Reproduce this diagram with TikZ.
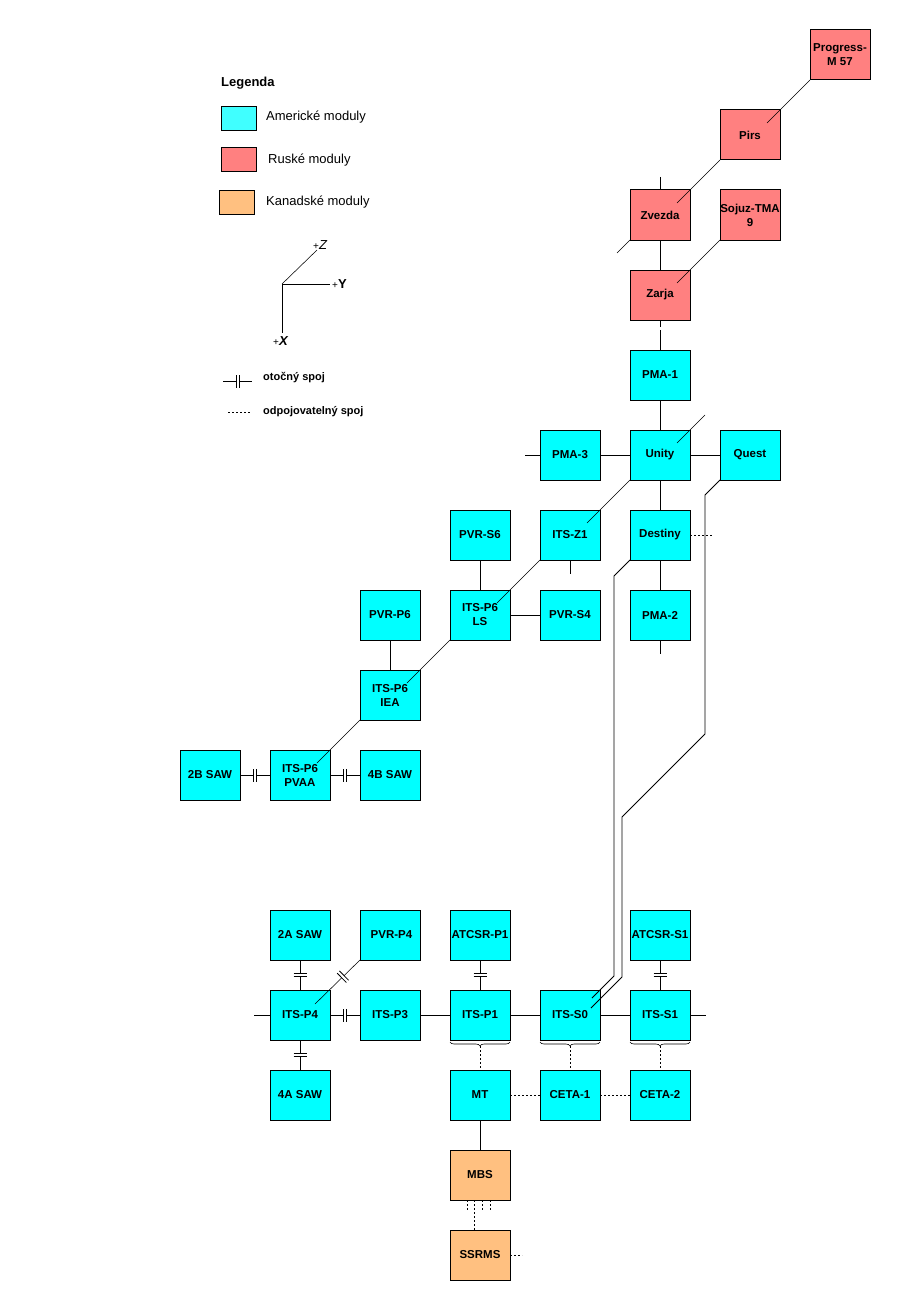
\documentclass[tikz,border=0pt]{standalone}
\usepackage{fontspec}
\setmainfont{Liberation Sans}
\usetikzlibrary{calc,decorations.pathreplacing,decorations.markings}
\definecolor{usmod}{HTML}{00FFFF}
\definecolor{uslegend}{HTML}{40FFFF}
\definecolor{rumod}{HTML}{FF8080}
\definecolor{camod}{HTML}{FFC080}
\begin{document}
\begin{tikzpicture}[x=1pt,y=-1pt,
  mod/.style={draw, line width=1pt, minimum width=60pt, minimum height=50pt, inner sep=0pt, outer sep=0pt, align=center, font=\fontsize{11.5}{14}\selectfont\bfseries, anchor=north west},
  us/.style={mod, fill=usmod},
  ru/.style={mod, fill=rumod},
  ca/.style={mod, fill=camod},
  legbox/.style={draw, line width=1pt, minimum width=35pt, minimum height=24pt, inner sep=0pt, anchor=north west},
  legtext/.style={anchor=west, inner sep=0pt, font=\fontsize{13}{15}\selectfont},
  legbold/.style={anchor=west, inner sep=0pt, font=\fontsize{11}{13}\selectfont\bfseries},
  conn/.style={line width=0.9pt},
  diag/.style={line width=0.55pt},
  long/.style={line width=0.75pt},
  dot/.style={line width=0.9pt, dash pattern=on 2pt off 2pt},
  rjoint/.style={postaction={decorate}, decoration={markings, mark=at position #1 with {\fill[white] (-1.4pt,-5pt) rectangle (1.4pt,5pt); \draw[line width=0.8pt] (-1.6pt,-6.5pt)--(-1.6pt,6.5pt) (1.6pt,-6.5pt)--(1.6pt,6.5pt);}}},
  rjoint/.default=0.5,
  brc/.style={line width=0.6pt, decorate, decoration={brace, amplitude=4pt}}
]
\useasboundingbox (0,0) rectangle (900,1300);
\fill[white] (0,0) rectangle (900,1300);

% ---------- legend ----------
\node[anchor=west, inner sep=0pt, font=\fontsize{13}{15}\selectfont\bfseries] (legtitle) at (221,83) {Legenda};
\node[legbox, fill=uslegend] (legus) at (221,106) {};
\node[legtext] (legustext) at (266,117) {Americké moduly};
\node[legbox, fill=rumod] (legru) at (221,147) {};
\node[legtext] (legrutext) at (268,160) {Ruské moduly};
\node[legbox, fill=camod] (legca) at (219,190) {};
\node[legtext] (legcatext) at (266,202) {Kanadské moduly};

\coordinate (axo) at (282,284);
\coordinate (axz) at (317,250);
\coordinate (axy) at (330,284);
\coordinate (axx) at (282,333);
\draw[diag] (axo) -- (axz);
\draw[conn] (axo) -- (axy);
\draw[conn] (axo) -- (axx);
\node[anchor=west, inner sep=0pt] (labz) at (313,245) {{\fontsize{10}{10}\selectfont +}{\fontsize{13}{13}\selectfont\itshape Z}};
\node[anchor=west, inner sep=0pt] (laby) at (332,284) {{\fontsize{10}{10}\selectfont +}{\fontsize{13}{13}\selectfont\bfseries Y}};
\node[anchor=west, inner sep=0pt] (labx) at (273,341) {{\fontsize{10}{10}\selectfont +}{\fontsize{13}{13}\selectfont\bfseries\itshape X}};

\coordinate (rja) at (223,381);
\coordinate (rjb) at (252,381);
\draw[conn, rjoint] (rja) -- (rjb);
\node[legbold] (rjtext) at (263,378) {otočný spoj};
\coordinate (dja) at (228,412);
\coordinate (djb) at (251,412);
\draw[dot] (dja) -- (djb);
\node[legbold] (djtext) at (263,412) {odpojovatelný spoj};

% ---------- modules ----------
\node[ru] (progress) at (810,30) {Progress-\\M 57};
\node[ru] (pirs) at (720,110) {Pirs};
\node[ru] (zvezda) at (630,190) {Zvezda};
\node[ru] (sojuz) at (720,190) {Sojuz-TMA\\9};
\node[ru] (zarja) at (630,270) {Zarja};
\node[us] (pma1) at (630,350) {PMA-1};
\node[us] (pma3) at (540,430) {PMA-3};
\node[us] (unity) at (630,430) {Unity};
\node[us] (quest) at (720,430) {Quest};
\node[us] (pvrs6) at (450,510) {PVR-S6};
\node[us] (itsz1) at (540,510) {ITS-Z1};
\node[us] (destiny) at (630,510) {Destiny};
\node[us] (pvrp6) at (360,590) {PVR-P6};
\node[us] (itsp6ls) at (450,590) {ITS-P6\\LS};
\node[us] (pvrs4) at (540,590) {PVR-S4};
\node[us] (pma2) at (630,590) {PMA-2};
\node[us] (iea) at (360,670) {ITS-P6\\IEA};
\node[us] (saw2b) at (180,750) {2B SAW};
\node[us] (pvaa) at (270,750) {ITS-P6\\PVAA};
\node[us] (saw4b) at (360,750) {4B SAW};
\node[us] (saw2a) at (270,910) {2A SAW};
\node[us] (pvrp4) at (360,910) {\hspace*{3pt}PVR-P4};
\node[us] (atcsrp1) at (450,910) {ATCSR-P1};
\node[us] (atcsrs1) at (630,910) {ATCSR-S1};
\node[us] (itsp4) at (270,990) {ITS-P4};
\node[us] (itsp3) at (360,990) {ITS-P3};
\node[us] (itsp1) at (450,990) {ITS-P1};
\node[us] (itss0) at (540,990) {ITS-S0};
\node[us] (itss1) at (630,990) {ITS-S1};
\node[us] (saw4a) at (270,1070) {4A SAW};
\node[us] (mt) at (450,1070) {MT};
\node[us] (ceta1) at (540,1070) {CETA-1};
\node[us] (ceta2) at (630,1070) {CETA-2};
\node[ca] (mbs) at (450,1150) {MBS};
\node[ca] (ssrms) at (450,1230) {SSRMS};

% ---------- free ends ----------
\coordinate (zvtop) at ($(zvezda.north)+(0,-13)$);
\coordinate (zvsw) at ($(zvezda.south west)+(-13,13)$);
\coordinate (pma3w) at ($(pma3.west)+(-15,0)$);
\coordinate (unityz) at ($(unity.north east)+(15,-15)$);
\coordinate (destE) at ($(destiny.east)+(22,0)$);
\coordinate (z1s) at ($(itsz1.south)+(0,14)$);
\coordinate (pma2s) at ($(pma2.south)+(0,14)$);
\coordinate (p4w) at ($(itsp4.west)+(-16,0)$);
\coordinate (s1e) at ($(itss1.east)+(16,0)$);
\coordinate (ssE) at ($(ssrms.east)+(12,0)$);

% ---------- Russian segment ----------
\draw[diag] (progress.south west) -- ($(pirs.north east)+(-13,13)$);
\draw[diag] (pirs.south west) -- ($(zvezda.north east)+(-13,13)$);
\draw[diag] (sojuz.south west) -- ($(zarja.north east)+(-13,13)$);
\draw[conn] (zvtop) -- (zvezda.north);
\draw[diag] (zvezda.south west) -- (zvsw);
\draw[conn] (zvezda.south) -- (zarja.north);
\draw[conn, dash pattern=on 7pt off 3pt on 30pt off 1pt] (zarja.south) -- (pma1.north);

% ---------- US segment ----------
\draw[conn] (pma1.south) -- (unity.north);
\draw[conn] (pma3w) -- (pma3.west);
\draw[conn] (pma3.east) -- (unity.west);
\draw[conn] (unity.east) -- (quest.west);
\draw[diag] (unityz) -- ($(unity.north east)+(-13,13)$);
\draw[diag] (unity.south west) -- ($(itsz1.north east)+(-13,13)$);
\draw[conn] (unity.south) -- (destiny.north);
\draw[dot] (destiny.east) -- (destE);
\draw[conn] (itsz1.south) -- (z1s);
\draw[diag] (itsz1.south west) -- ($(itsp6ls.north east)+(-13,13)$);
\draw[conn] (pvrs6.south) -- (itsp6ls.north);
\draw[conn] (itsp6ls.east) -- (pvrs4.west);
\draw[conn] (destiny.south) -- (pma2.north);
\draw[conn] (pma2.south) -- (pma2s);
\draw[conn] (pvrp6.south) -- (iea.north);
\draw[diag] (itsp6ls.south west) -- ($(iea.north east)+(-13,13)$);
\draw[diag] (iea.south west) -- ($(pvaa.north east)+(-13,13)$);
\draw[conn, rjoint] (saw2b.east) -- (pvaa.west);
\draw[conn, rjoint] (pvaa.east) -- (saw4b.west);

% ---------- long umbilicals to S0 ----------
\draw[long] (destiny.south west) -- ++(-16,16) -- (614,976) -- ($(itss0.north east)+(-8,8)$);
\draw[long] (quest.south west) -- ++(-15,15) -- (705,734) -- (622,817) -- (622,977) -- ($(itss0.north east)+(-9,18)$);

% ---------- truss ----------
\draw[conn] (p4w) -- (itsp4.west);
\draw[conn, rjoint] (saw2a.south) -- (itsp4.north);
\draw[conn, rjoint] (itsp4.south) -- (saw4a.north);
\draw[conn, rjoint] (itsp4.east) -- (itsp3.west);
\draw[diag, rjoint=0.38] (pvrp4.south west) -- ($(itsp4.north east)+(-15,14)$);
\draw[conn] (itsp3.east) -- (itsp1.west);
\draw[conn, rjoint] (atcsrp1.south) -- (itsp1.north);
\draw[conn] (itsp1.east) -- (itss0.west);
\draw[conn] (itss0.east) -- (itss1.west);
\draw[conn] (itss1.east) -- (s1e);
\draw[conn, rjoint] (atcsrs1.south) -- (itss1.north);

% ---------- braces and mobile system ----------
\draw[brc] ($(itsp1.south east)+(0,2)$) -- ($(itsp1.south west)+(0,2)$);
\draw[brc] ($(itss0.south east)+(0,2)$) -- ($(itss0.south west)+(0,2)$);
\draw[brc] ($(itss1.south east)+(0,2)$) -- ($(itss1.south west)+(0,2)$);
\coordinate (bp1) at ($(itsp1.south)+(0,6)$);
\coordinate (bs0) at ($(itss0.south)+(0,6)$);
\coordinate (bs1) at ($(itss1.south)+(0,6)$);
\draw[dot] (bp1) -- (mt.north);
\draw[dot] (bs0) -- (ceta1.north);
\draw[dot] (bs1) -- (ceta2.north);
\draw[dot] (mt.east) -- (ceta1.west);
\draw[dot] (ceta1.east) -- (ceta2.west);
\draw[conn] (mt.south) -- (mbs.north);
\foreach \dx in {17,32,40} {
  \draw[dot] ($(mbs.south west)+(\dx,0)$) -- ++(0,11);
}
\draw[dot] ($(mbs.south west)+(24,0)$) -- ($(ssrms.north west)+(24,0)$);
\draw[dot] (ssrms.east) -- (ssE);
\end{tikzpicture}
\end{document}
